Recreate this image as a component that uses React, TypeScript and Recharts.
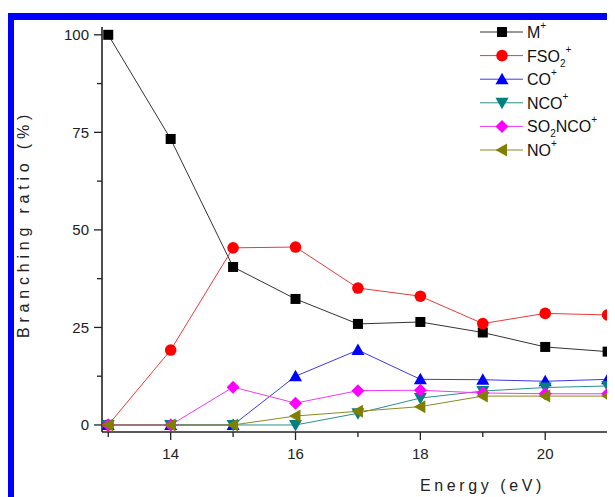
import React from "react";
import { LineChart, Line, XAxis, YAxis } from "recharts";

// Photon energy (eV)
const energies = [13, 14, 15, 16, 17, 18, 19, 20, 21];

// Branching ratios (%) for each ion
const mPlus = [100, 73.3, 40.5, 32.3, 25.9, 26.4, 23.7, 20.0, 18.8];
const fso2Plus = [0, 19.2, 45.4, 45.6, 35.1, 33.0, 26.0, 28.6, 28.2];
const coPlus = [0, 0, 0, 12.5, 19.2, 11.7, 11.6, 11.2, 11.7];
const ncoPlus = [0, 0, 0, 0, 3.0, 6.9, 8.7, 9.6, 10.0];
const so2ncoPlus = [0, 0, 9.7, 5.6, 8.8, 8.9, 8.2, 8.0, 8.0];
const noPlus = [0, 0, 0, 2.3, 3.5, 4.7, 7.4, 7.4, 7.4];

const xTicks = [13, 14, 15, 16, 17, 18, 19, 20, 21];
const yTicks = [0, 12.5, 25, 37.5, 50, 62.5, 75, 87.5, 100];

type Shape = "square" | "circle" | "up" | "down" | "diamond" | "left";

type Label = { base: string; sub?: string; tail?: string };

const series: {
  key: string;
  values: number[];
  label: Label;
  color: string;
  line: string;
  shape: Shape;
}[] = [
  { key: "m", values: mPlus, label: { base: "M" }, color: "#000000", line: "#333333", shape: "square" },
  { key: "fso2", values: fso2Plus, label: { base: "FSO", sub: "2" }, color: "#ff0000", line: "#e83a3a", shape: "circle" },
  { key: "co", values: coPlus, label: { base: "CO" }, color: "#0000ff", line: "#3a3ae8", shape: "up" },
  { key: "nco", values: ncoPlus, label: { base: "NCO" }, color: "#008080", line: "#2a8f8f", shape: "down" },
  { key: "so2nco", values: so2ncoPlus, label: { base: "SO", sub: "2", tail: "NCO" }, color: "#ff00ff", line: "#f03af0", shape: "diamond" },
  { key: "no", values: noPlus, label: { base: "NO" }, color: "#808000", line: "#8a8a22", shape: "left" },
];

const rows = energies.map((e, i) => {
  const r: Record<string, number> = { energy: e };
  series.forEach((s) => {
    r[s.key] = s.values[i];
  });
  return r;
});

const FONT = "'Liberation Sans', Arial, sans-serif";
const AXIS = "#222222";

function Marker({ shape, cx, cy, color }: { shape: Shape; cx: number; cy: number; color: string }) {
  const a = 6.5;
  const b = 5;
  switch (shape) {
    case "square":
      return <rect x={cx - 5} y={cy - 5} width={10} height={10} fill={color} />;
    case "circle":
      return <circle cx={cx} cy={cy} r={5.8} fill={color} />;
    case "up":
      return <polygon points={`${cx},${cy - a} ${cx + a},${cy + b} ${cx - a},${cy + b}`} fill={color} />;
    case "down":
      return <polygon points={`${cx},${cy + a} ${cx + a},${cy - b} ${cx - a},${cy - b}`} fill={color} />;
    case "diamond":
      return <polygon points={`${cx},${cy - a} ${cx + a},${cy} ${cx},${cy + a} ${cx - a},${cy}`} fill={color} />;
    default:
      return <polygon points={`${cx - a},${cy} ${cx + b},${cy - a} ${cx + b},${cy + a}`} fill={color} />;
  }
}

function YTick(props: any) {
  const { x, y, payload } = props;
  const major = payload.value % 25 === 0;
  return (
    <g>
      <line x1={x} x2={x - (major ? 8 : 5)} y1={y} y2={y} stroke={AXIS} strokeWidth={1.3} />
      {major && (
        <text x={x - 13} y={y} dy="0.36em" textAnchor="end" fontSize={15} fontFamily={FONT} fill="#222">
          {payload.value}
        </text>
      )}
    </g>
  );
}

function XTick(props: any) {
  const { x, y, payload } = props;
  const major = payload.value % 2 === 0;
  return (
    <g>
      <line x1={x} x2={x} y1={y} y2={y + (major ? 8 : 5)} stroke={AXIS} strokeWidth={1.3} />
      {major && (
        <text x={x} y={y + 27} textAnchor="middle" fontSize={15} fontFamily={FONT} fill="#222">
          {payload.value}
        </text>
      )}
    </g>
  );
}

function LegendLabel({ label, x, y }: { label: Label; x: number; y: number }) {
  return (
    <text x={x} y={y} fontSize={16} fontFamily={FONT} fill="#111" dominantBaseline="central">
      <tspan>{label.base}</tspan>
      {label.sub && (
        <tspan fontSize={10} dy={7}>
          {label.sub}
        </tspan>
      )}
      {label.tail && (
        <tspan fontSize={16} dy={-7}>
          {label.tail}
        </tspan>
      )}
      <tspan fontSize={10} dy={label.sub && !label.tail ? -14 : -7}>
        +
      </tspan>
    </text>
  );
}

function SeriesLegend() {
  return (
    <svg
      width={140}
      height={150}
      style={{ position: "absolute", left: 466, top: 10, overflow: "visible" }}
    >
      {series.map((s, i) => {
        const cy = 14 + i * 23.6;
        return (
          <g key={s.key}>
            <line x1={6} x2={49} y1={cy} y2={cy} stroke={s.line} strokeWidth={1} />
            <Marker shape={s.shape} cx={28} cy={cy} color={s.color} />
            <LegendLabel label={s.label} x={53} y={cy} />
          </g>
        );
      })}
    </svg>
  );
}

export default function App() {
  return (
    <div
      style={{
        position: "relative",
        width: 607,
        height: 489,
        overflow: "hidden",
        background: "#ffffff",
        fontFamily: FONT,
      }}
    >
      <LineChart
        width={620}
        height={489}
        data={rows}
        margin={{ top: 19, right: 11, bottom: 25, left: 0 }}
      >
        <XAxis
          dataKey="energy"
          type="number"
          domain={[12.9, 21.15]}
          ticks={xTicks}
          interval={0}
          allowDataOverflow
          height={40}
          tickSize={0}
          tickMargin={0}
          tickLine={false}
          axisLine={{ stroke: AXIS, strokeWidth: 1.6 }}
          tick={<XTick />}
        />
        <YAxis
          type="number"
          domain={[-1.8, 102]}
          ticks={yTicks}
          interval={0}
          allowDataOverflow
          width={94}
          tickSize={0}
          tickMargin={0}
          tickLine={false}
          axisLine={{ stroke: AXIS, strokeWidth: 1.6 }}
          tick={<YTick />}
        />
        {series.map((s) => (
          <Line
            key={s.key}
            dataKey={s.key}
            type="linear"
            stroke={s.line}
            strokeWidth={1}
            isAnimationActive={false}
            activeDot={false}
            dot={(p: any) => (
              <Marker key={`${s.key}-${p.index}`} shape={s.shape} cx={p.cx} cy={p.cy} color={s.color} />
            )}
          />
        ))}
      </LineChart>

      <SeriesLegend />

      <div
        style={{
          position: "absolute",
          left: 16,
          top: 216,
          transform: "translate(-50%, -50%) rotate(-90deg)",
          whiteSpace: "nowrap",
          fontSize: 16,
          letterSpacing: 4.8,
          color: "#222",
          lineHeight: 1,
        }}
      >
        Branching ratio (%)
      </div>
      <div
        style={{
          position: "absolute",
          left: 412,
          top: 470,
          whiteSpace: "nowrap",
          fontSize: 16,
          letterSpacing: 3.6,
          color: "#222",
          lineHeight: 1,
        }}
      >
        Energy (eV)
      </div>

      {/* blue frame around the figure */}
      <div style={{ position: "absolute", left: 0, top: 5, width: 6, bottom: 0, background: "#0000ff" }} />
      <div style={{ position: "absolute", left: 0, top: 5, right: 0, height: 7, background: "#0000ff" }} />
      <div style={{ position: "absolute", right: 0, top: 5, width: 3, bottom: 0, background: "#0000ff" }} />
    </div>
  );
}
